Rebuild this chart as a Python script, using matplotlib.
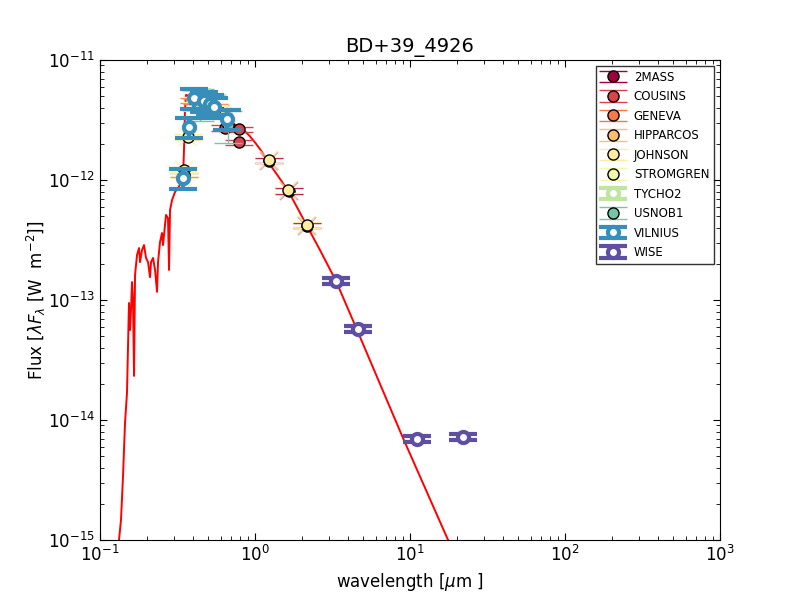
import numpy as np
import matplotlib
matplotlib.use("Agg")
import matplotlib.pyplot as plt

plt.rcParams['font.family'] = ['DejaVu Sans']
plt.rcParams['font.size'] = 12
plt.rcParams['xtick.direction'] = 'in'
plt.rcParams['ytick.direction'] = 'in'
plt.rcParams['xtick.top'] = True
plt.rcParams['ytick.right'] = True
plt.rcParams['xtick.major.size'] = 5
plt.rcParams['ytick.major.size'] = 5
plt.rcParams['xtick.minor.size'] = 3
plt.rcParams['ytick.minor.size'] = 3

# model SED (micron, W/m2)
model_wave = [0.1326, 0.1366, 0.1407, 0.1450, 0.1493, 0.1516, 0.1538, 0.1562, 0.1585,
              0.1609, 0.1633, 0.1658, 0.1683, 0.1733, 0.1786, 0.1812, 0.1867, 0.1923,
              0.1981, 0.2041, 0.2102, 0.2134, 0.2199, 0.2265, 0.2333, 0.2368, 0.2439,
              0.2512, 0.2550, 0.2627, 0.2667, 0.2747, 0.2789, 0.2831, 0.2916, 0.3047,
              0.3184, 0.3328, 0.3431, 0.3482, 0.3534, 0.3587, 0.3812, 0.4105, 0.4419,
              0.4757, 0.5121, 0.5513, 0.5935, 0.6483, 0.7082, 0.7735, 0.8448, 0.9228,
              1.008, 1.101, 1.203, 1.408, 1.653, 1.894, 2.166, 2.624, 3.331, 4.527,
              6.40, 9.01, 17.6, 30.0]
model_flux = [1.0e-15, 1.47e-15, 3.35e-15, 9.44e-15, 1.68e-14, 4.06e-14, 9.44e-14, 5.62e-14,
              8.26e-14, 1.41e-13, 1.0e-13, 2.33e-14, 1.62e-13, 2.37e-13, 2.71e-13, 2.07e-13,
              2.61e-13, 2.87e-13, 2.24e-13, 2.07e-13, 1.55e-13, 2.07e-13, 2.24e-13, 1.78e-13,
              1.17e-13, 2.07e-13, 3.04e-13, 3.62e-13, 2.87e-13, 4.22e-13, 5.11e-13, 4.8e-13,
              1.78e-13, 5.62e-13, 6.81e-13, 7.94e-13, 8.58e-13, 9.44e-13, 1.0e-12, 1.78e-12,
              3.83e-12, 5.11e-12, 5.01e-12, 4.9e-12, 4.73e-12, 4.55e-12, 4.30e-12, 4.06e-12,
              3.76e-12, 3.35e-12, 3.04e-12, 2.76e-12, 2.61e-12, 2.33e-12, 2.03e-12, 1.74e-12,
              1.44e-12, 1.08e-12, 7.94e-13, 5.73e-13, 4.14e-13, 2.61e-13, 1.44e-13, 5.73e-14,
              2.0e-14, 7.08e-15, 1.0e-15, 2.0e-16]

# photometry per system: wavelength (micron), flux, flux error
systems = ['2MASS', 'COUSINS', 'GENEVA', 'HIPPARCOS', 'JOHNSON', 'STROMGREN',
           'TYCHO2', 'USNOB1', 'VILNIUS', 'WISE']

wave_2mass = [1.235, 1.662, 2.159]
flux_2mass = [1.45e-12, 8.1e-13, 4.15e-13]
err_2mass = [7e-14, 4e-14, 2e-14]

wave_cousins = [0.64, 0.79, 0.79]
flux_cousins = [2.71e-12, 2.66e-12, 2.07e-12]
err_cousins = [1.4e-13, 1.3e-13, 1.0e-13]

wave_geneva = [0.346, 0.402, 0.423, 0.448, 0.541, 0.551, 0.581]
flux_geneva = [1.1e-12, 4.6e-12, 4.5e-12, 4.5e-12, 4.1e-12, 4.0e-12, 3.8e-12]
err_geneva = [5e-14, 2.3e-13, 2.2e-13, 2.2e-13, 2.0e-13, 2.0e-13, 1.9e-13]

wave_hipparcos = [0.528]
flux_hipparcos = [4.0e-12]
err_hipparcos = [2.0e-13]

wave_johnson = [0.35, 0.37, 0.55, 1.23, 1.63, 2.16]
flux_johnson = [1.21e-12, 2.28e-12, 3.9e-12, 1.47e-12, 8.26e-13, 4.22e-13]
err_johnson = [7e-14, 1.3e-13, 2.0e-13, 8e-14, 4.5e-14, 2.3e-14]

wave_stromgren = [0.35, 0.41, 0.467, 0.547]
flux_stromgren = [1.1e-12, 4.7e-12, 4.4e-12, 4.0e-12]
err_stromgren = [6e-14, 2.4e-13, 2.2e-13, 2.0e-13]

wave_tycho2 = [0.42, 0.53]
flux_tycho2 = [4.7e-12, 4.2e-12]
err_tycho2 = [9e-13, 8e-13]

wave_usnob1 = [0.44, 0.67]
flux_usnob1 = [4.4e-12, 2.9e-12]
err_usnob1 = [1.3e-12, 8.7e-13]

wave_vilnius = [0.345, 0.374, 0.405, 0.466, 0.516, 0.544, 0.656]
flux_vilnius = [1.04e-12, 2.76e-12, 4.82e-12, 4.55e-12, 4.30e-12, 4.06e-12, 3.22e-12]
err_vilnius = [2.0e-13, 5.2e-13, 9.2e-13, 8.6e-13, 8.2e-13, 7.7e-13, 6.1e-13]

wave_wise = [3.35, 4.6, 11.1, 22.0]
flux_wise = [1.44e-13, 5.73e-14, 6.95e-15, 7.2e-15]
err_wise = [8e-15, 3.4e-15, 4e-16, 4.2e-16]

data = {
    '2MASS': (wave_2mass, flux_2mass, err_2mass),
    'COUSINS': (wave_cousins, flux_cousins, err_cousins),
    'GENEVA': (wave_geneva, flux_geneva, err_geneva),
    'HIPPARCOS': (wave_hipparcos, flux_hipparcos, err_hipparcos),
    'JOHNSON': (wave_johnson, flux_johnson, err_johnson),
    'STROMGREN': (wave_stromgren, flux_stromgren, err_stromgren),
    'TYCHO2': (wave_tycho2, flux_tycho2, err_tycho2),
    'USNOB1': (wave_usnob1, flux_usnob1, err_usnob1),
    'VILNIUS': (wave_vilnius, flux_vilnius, err_vilnius),
    'WISE': (wave_wise, flux_wise, err_wise),
}
open_systems = ['TYCHO2', 'VILNIUS', 'WISE']

colors = plt.cm.Spectral(np.linspace(0, 1, len(systems)))

fig = plt.figure(figsize=(8, 6), dpi=100)
ax = fig.add_axes([0.125, 0.1, 0.775, 0.8])

ax.plot(model_wave, model_flux, '-', color='red', lw=1.4, zorder=1)

# synthetic-flux crosses behind the near-IR / UV points
ax.plot(wave_2mass, flux_2mass, 'x', color=colors[0], alpha=0.35, ms=13, mew=1.5, zorder=1.5)
ax.plot(wave_johnson[:2] + wave_johnson[3:], flux_johnson[:2] + flux_johnson[3:], 'x',
        color=colors[4], alpha=0.6, ms=13, mew=1.5, zorder=1.5)

for i, name in enumerate(systems):
    w, f, e = data[name]
    c = colors[i]
    if name in open_systems:
        ax.errorbar(w, f, yerr=e, fmt='o', mfc='white', mec=c, mew=3, ms=8,
                    ecolor=c, elinewidth=3, capsize=10, capthick=3.5, label=name,
                    zorder=3 + i * 0.1)
    else:
        ax.errorbar(w, f, yerr=e, fmt='o', mfc=c, mec='k', mew=1, ms=8,
                    ecolor=c, elinewidth=1, capsize=10, capthick=1, label=name,
                    zorder=2 + i * 0.1)

ax.set_xscale('log')
ax.set_yscale('log')
ax.set_xlim(0.1, 1000)
ax.set_ylim(1e-15, 1e-11)
ax.set_title('BD+39_4926', fontsize=14)
ax.set_xlabel(r'wavelength [$\mu$m ]')
ax.set_ylabel(r'Flux [$\lambda F_\lambda$ [W  m$^{-2}$]]', labelpad=0)
ax.tick_params(which='both', labelsize=12)

leg = ax.legend(loc='upper right', numpoints=1, fontsize=8.5, fancybox=False,
                labelspacing=0.55, borderpad=0.4)
leg.get_frame().set_edgecolor('black')

fig.savefig('out.png', dpi=100)
